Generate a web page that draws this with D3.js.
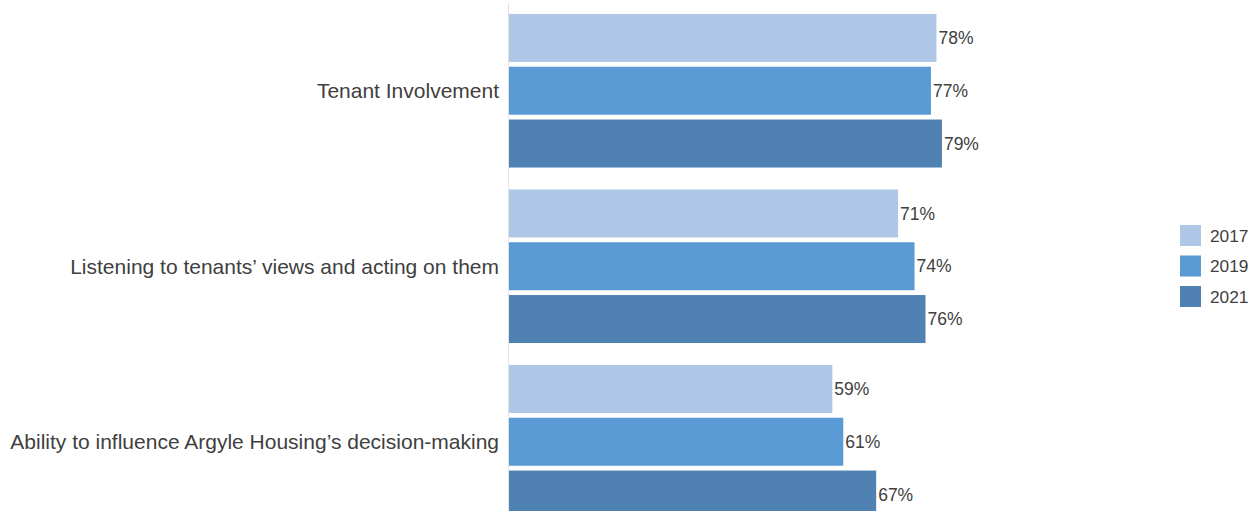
<!DOCTYPE html>
<html>
<head>
<meta charset="utf-8">
<script src="https://cdn.jsdelivr.net/npm/d3@7"></script>
<style>
  html, body { margin: 0; padding: 0; background: #ffffff; }
  svg { display: block; font-family: "Liberation Sans", Arial, sans-serif; }
</style>
</head>
<body>
<svg id="chart" width="1250" height="511"></svg>
<script>
const categories = [
  "Tenant Involvement",
  "Listening to tenants\u2019 views and acting on them",
  "Ability to influence Argyle Housing\u2019s decision-making"
];
const years = ["2017", "2019", "2021"];
const values2017 = [78, 71, 59];
const values2019 = [77, 74, 61];
const values2021 = [79, 76, 67];
const colors = ["#aec7e6", "#5b9bd5", "#4f81b3"];

const seriesValues = [values2017, values2019, values2021];
const rows = categories.map((c, i) => ({
  category: c,
  bars: years.map((y, j) => ({ year: y, value: seriesValues[j][i] }))
}));

const svg = d3.select("#chart");
const x0 = 509;
const x = d3.scaleLinear().domain([0, 100]).range([x0, x0 + 548]);

const y0 = d3.scaleBand().domain(categories).range([3, 529.5])
  .paddingInner(0.125).paddingOuter(0.0625);
const y1 = d3.scaleBand().domain(years).range([0, y0.bandwidth()]).paddingInner(0.091);
const color = d3.scaleOrdinal().domain(years).range(colors);

// vertical baseline
svg.append("line")
  .attr("x1", x0 - 0.5).attr("x2", x0 - 0.5)
  .attr("y1", 3).attr("y2", 511)
  .attr("stroke", "#e3e3e3").attr("stroke-width", 1);

const groups = svg.selectAll("g.cat").data(rows).join("g")
  .attr("class", "cat")
  .attr("transform", d => `translate(0,${y0(d.category)})`);

groups.selectAll("rect").data(d => d.bars).join("rect")
  .attr("x", x(0))
  .attr("y", d => y1(d.year))
  .attr("width", d => x(d.value) - x(0))
  .attr("height", y1.bandwidth())
  .attr("fill", d => color(d.year));

groups.selectAll("text.val").data(d => d.bars).join("text")
  .attr("class", "val")
  .attr("x", d => x(d.value) + 2)
  .attr("y", d => y1(d.year) + y1.bandwidth() / 2)
  .attr("dy", "0.35em")
  .attr("font-size", 17.5)
  .attr("fill", "#404040")
  .text(d => d.value + "%");

// category labels
svg.selectAll("text.cat").data(categories).join("text")
  .attr("class", "cat")
  .attr("x", 499)
  .attr("y", d => y0(d) + y0.bandwidth() / 2)
  .attr("dy", "0.35em")
  .attr("text-anchor", "end")
  .attr("font-size", 21)
  .attr("fill", "#404040")
  .text(d => d);

// legend
const legend = svg.append("g").attr("transform", "translate(1180,225)");
const li = legend.selectAll("g").data(years).join("g")
  .attr("transform", (d, i) => `translate(0,${i * 30.5})`);
li.append("rect").attr("width", 21).attr("height", 21).attr("fill", d => color(d));
li.append("text").attr("x", 30).attr("y", 10.5).attr("dy", "0.35em")
  .attr("font-size", 17.3).attr("fill", "#404040").text(d => d);
</script>
</body>
</html>
